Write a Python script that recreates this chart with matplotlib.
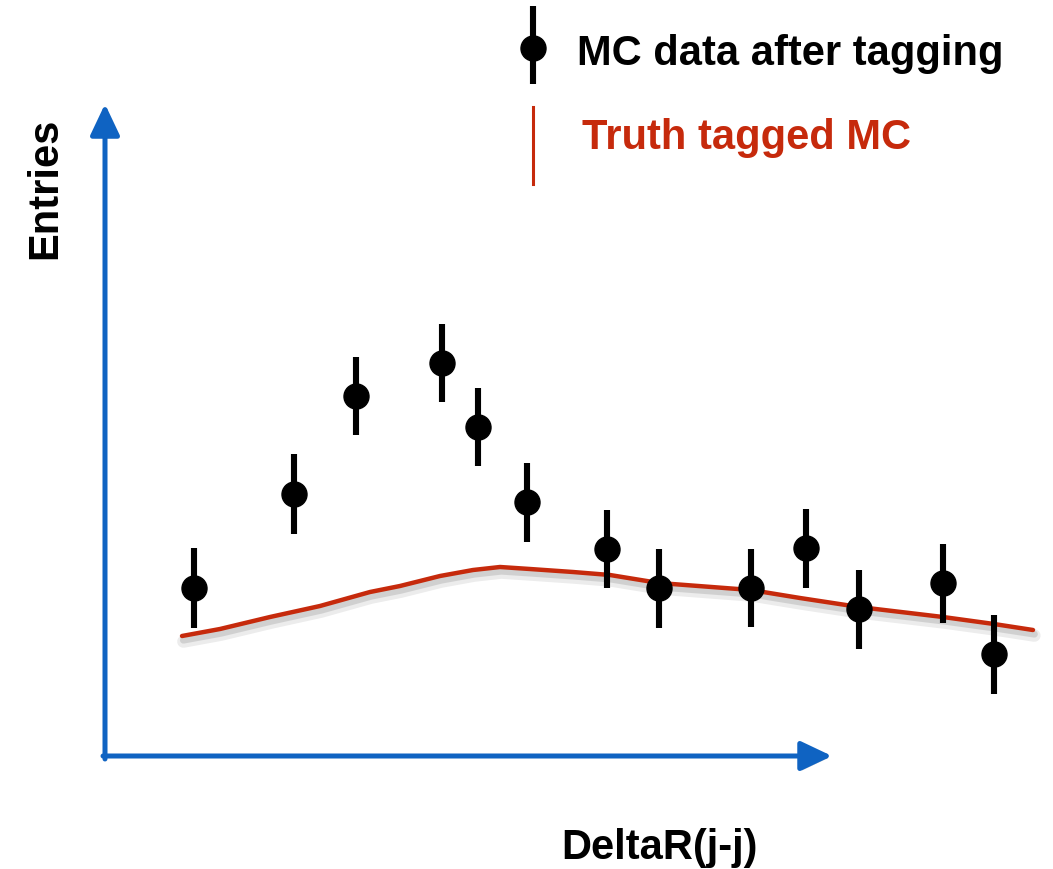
import numpy as np
import matplotlib.pyplot as plt
import matplotlib.patheffects as pe

# MC data after tagging (DeltaR bins, entries, errors)
dr = [0.89, 1.89, 2.51, 3.37, 3.73, 4.22, 5.02, 5.54, 6.46, 7.01, 7.54, 8.38, 8.89]
entries = [16.8, 26.2, 36.0, 39.3, 32.9, 25.4, 20.7, 16.8, 16.8, 20.8, 14.7, 17.3, 10.2]
errs = [4.0, 4.0, 3.9, 3.9, 3.9, 3.95, 3.9, 3.95, 3.9, 3.95, 3.95, 3.95, 3.95]

# truth tagged MC curve
truth_x = [0.77, 1.15, 1.65, 2.15, 2.65, 2.95, 3.35, 3.68, 3.95, 4.25, 4.68, 5.05,
           5.54, 6.46, 6.95, 7.54, 8.38, 8.89, 9.28]
truth_y = [12.0, 12.7, 13.9, 15.0, 16.4, 17.0, 18.0, 18.6, 18.9, 18.7, 18.4, 18.1,
           17.3, 16.6, 15.8, 14.9, 13.9, 13.2, 12.6]

blue = '#0f63c2'
red = '#c62a0c'
font = 'Liberation Sans'

fig = plt.figure(figsize=(10.53, 8.70), dpi=100)
ax = fig.add_axes([0, 0, 1, 1])
ax.set_xlim(-1.05, 9.48)
ax.set_ylim(-11.3, 75.7)
ax.axis('off')

# axes arrows
arrow_kw = dict(arrowstyle='-|>,head_length=0.95,head_width=0.45', color=blue,
                lw=3.6, shrinkA=0, shrinkB=0, mutation_scale=20)
shadow = [pe.SimplePatchShadow(offset=(1.5, -1.5), alpha=0.25), pe.Normal()]
a1 = ax.annotate('', xy=(0, 65.2), xytext=(0, -0.3), arrowprops=arrow_kw)
a2 = ax.annotate('', xy=(7.27, 0), xytext=(-0.02, 0), arrowprops=arrow_kw)
a1.arrow_patch.set_path_effects(shadow)
a2.arrow_patch.set_path_effects(shadow)

# truth curve with a soft shadow
ax.plot(truth_x, truth_y, color=red, lw=3.2, solid_capstyle='round',
        solid_joinstyle='round', zorder=3,
        path_effects=[pe.SimpleLineShadow(offset=(1, -4), shadow_color='gray', alpha=0.15, linewidth=9),
                      pe.SimpleLineShadow(offset=(1, -3), shadow_color='gray', alpha=0.25, linewidth=5),
                      pe.Normal()])

# data points
ax.errorbar(dr, entries, yerr=errs, fmt='o', color='black', ms=18, elinewidth=4.4,
            capsize=0, zorder=4)

# legend drawn by hand
ax.errorbar([4.28], [70.8], yerr=[[3.6], [4.2]], fmt='o', color='black', ms=18,
            elinewidth=4.4, capsize=0)
ax.text(4.72, 70.3, 'MC data after tagging', fontsize=30, fontweight='bold',
        family=font, va='center', ha='left')
ax.plot([4.28, 4.28], [64.9, 57.2], color=red, lw=2.2)
ax.text(4.77, 61.9, 'Truth tagged MC', fontsize=30, fontweight='bold',
        family=font, va='center', ha='left', color=red)

# axis titles
ax.text(-0.6, 56.9, 'Entries', fontsize=30, fontweight='bold', family=font,
        rotation=90, ha='center', va='center')
ax.text(5.55, -9.1, 'DeltaR(j-j)', fontsize=30, fontweight='bold', family=font,
        ha='center', va='center')

fig.savefig('out.png', dpi=100)
